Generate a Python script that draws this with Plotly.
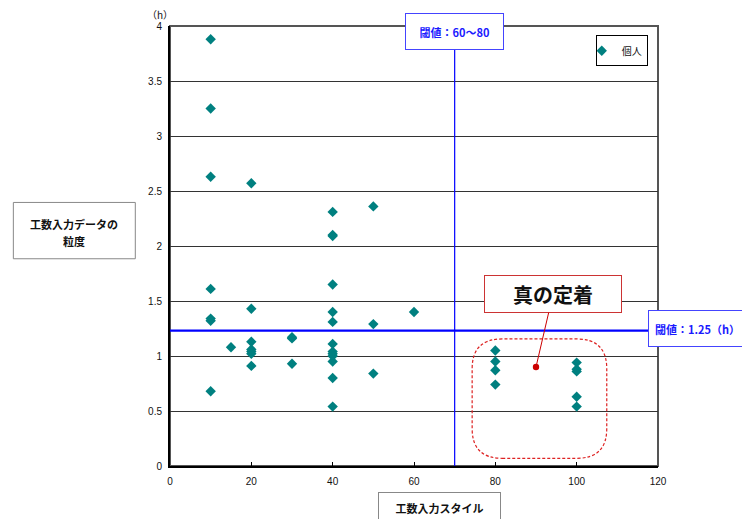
import plotly.graph_objects as go

# ---- data ----
style_x = [10, 10, 10, 10, 10, 10, 10,
           15,
           20, 20, 20, 20, 20, 20, 20,
           30, 30, 30,
           40, 40, 40, 40, 40, 40, 40, 40, 40, 40, 40, 40, 40,
           50, 50, 50,
           60,
           80, 80, 80, 80,
           100, 100, 100, 100, 100]
granularity_y = [3.88, 3.25, 2.63, 1.61, 1.34, 1.32, 0.68,
                 1.08,
                 2.57, 1.43, 1.13, 1.06, 1.04, 1.02, 0.91,
                 1.17, 1.16, 0.93,
                 2.31, 2.10, 2.09, 1.65, 1.40, 1.31, 1.11, 1.04, 1.02, 1.00, 0.95, 0.80, 0.54,
                 2.36, 1.29, 0.84,
                 1.40,
                 1.05, 0.95, 0.87, 0.74,
                 0.94, 0.88, 0.86, 0.63, 0.54]
series_name = "個人"
x_threshold = 70
y_threshold = 1.23
x_threshold_label = "閾値：60～80"
y_threshold_label = "閾値：1.25（h）"
callout_label = "真の定着"
callout_point = (90, 0.9)
region_x = (74.3, 107.4)
region_y = (0.07, 1.155)
x_title = "工数入力スタイル"
y_title_lines = ["工数入力データの", "粒度"]
y_unit = "（h）"

FONT = "Liberation Sans, Arial, Noto Sans CJK JP, sans-serif"
JP = "Noto Sans CJK JP, sans-serif"
BLUE = "#0000ff"

fig = go.Figure()
fig.add_trace(go.Scatter(
    x=style_x, y=granularity_y, mode="markers", name=series_name,
    marker=dict(symbol="diamond", size=8, color="#008080"),
))

# rounded dashed region
x0, x1 = region_x
y0, y1 = region_y
rx, ry = 7.4, 0.27
path = (f"M {x0+rx},{y0} L {x1-rx},{y0} Q {x1},{y0} {x1},{y0+ry} "
        f"L {x1},{y1-ry} Q {x1},{y1} {x1-rx},{y1} "
        f"L {x0+rx},{y1} Q {x0},{y1} {x0},{y1-ry} "
        f"L {x0},{y0+ry} Q {x0},{y0} {x0+rx},{y0} Z")
fig.add_shape(type="path", path=path, xref="x", yref="y",
              line=dict(color="#dd2222", width=1.2, dash="3px,2px"))

# frame
fig.add_shape(type="rect", xref="paper", yref="paper", x0=0, x1=1, y0=0, y1=1,
              line=dict(color="#555555", width=2), layer="below")

# y-title box
fig.add_shape(type="rect", xref="paper", yref="paper", x0=-0.321, x1=-0.0711,
              y0=0.471, y1=0.599, line=dict(color="#888888", width=1),
              fillcolor="white", layer="above")

# threshold lines
fig.add_shape(type="line", xref="paper", yref="y", x0=0, x1=1.0,
              y0=y_threshold, y1=y_threshold, line=dict(color=BLUE, width=2.2))
fig.add_shape(type="line", xref="x", yref="paper", x0=x_threshold, x1=x_threshold,
              y0=0, y1=1, line=dict(color=BLUE, width=1.2))

C = dict(xanchor="center", yanchor="middle")
annos = [
    dict(text=f"<b>{x_threshold_label}</b>", x=x_threshold, xref="x", y=0.987, yref="paper",
         showarrow=False, font=dict(family=JP, size=11, color="#1a1aff"),
         bgcolor="white", bordercolor="#4444ff", borderwidth=1, width=95, height=33, **C),
    dict(text=f"<b>{y_threshold_label}</b>", x=1.081, xref="paper", y=0.313, yref="paper",
         showarrow=False, font=dict(family=JP, size=11, color="#1a1aff"),
         bgcolor="white", bordercolor="#4444ff", borderwidth=1, width=95, height=33, **C),
    dict(text=f"<b>{callout_label}</b>", x=callout_point[0], y=callout_point[1], xref="x", yref="y",
         showarrow=True, ax=17, ay=-73, arrowhead=6, arrowsize=1.6, arrowwidth=1,
         arrowcolor="#cc0000", standoff=0,
         font=dict(family=JP, size=20, color="#111111"),
         bgcolor="white", bordercolor="#cc3333", borderwidth=1, width=134, height=34),
    dict(text=f"<b>{y_title_lines[0]}</b>", x=-0.196, xref="paper", y=0.549, yref="paper",
         showarrow=False, font=dict(family=JP, size=11, color="#111111"), **C),
    dict(text=f"<b>{y_title_lines[1]}</b>", x=-0.196, xref="paper", y=0.511, yref="paper",
         showarrow=False, font=dict(family=JP, size=11, color="#111111"), **C),
    dict(text=f"<b>{x_title}</b>", x=0.552, xref="paper", y=-0.095, yref="paper",
         showarrow=False, font=dict(family=JP, size=11, color="#111111"),
         bgcolor="white", bordercolor="#888888", borderwidth=1, width=119, height=28, **C),
    dict(text=y_unit, x=-0.02, xref="paper", y=1.026, yref="paper",
         showarrow=False, font=dict(family=JP, size=10, color="#111111"), **C),
]

fig.update_layout(
    width=750, height=519,
    margin=dict(l=162, r=100, t=18, b=61),
    paper_bgcolor="white", plot_bgcolor="white",
    font=dict(family=FONT, size=10, color="#111111"),
    showlegend=True,
    legend=dict(x=0.979, xanchor="right", y=0.979, yanchor="top",
                bordercolor="#000000", borderwidth=1, bgcolor="white",
                font=dict(family=JP, size=10), itemwidth=30, indentation=-15,
                tracegroupgap=0),
    annotations=annos,
    xaxis=dict(range=[0, 120], dtick=20, showgrid=False, zeroline=False,
               showline=True, linecolor="#000000", linewidth=2,
               ticks="inside", ticklen=4, tickcolor="#000000",
               ticklabelstandoff=5, tickfont=dict(size=10)),
    yaxis=dict(range=[0, 4], dtick=0.5, showgrid=True, gridcolor="#333333", gridwidth=1,
               zeroline=False, showline=True, linecolor="#000000", linewidth=2,
               ticks="", ticklabelstandoff=4, tickfont=dict(size=10)),
)

fig.write_html("out.html")
